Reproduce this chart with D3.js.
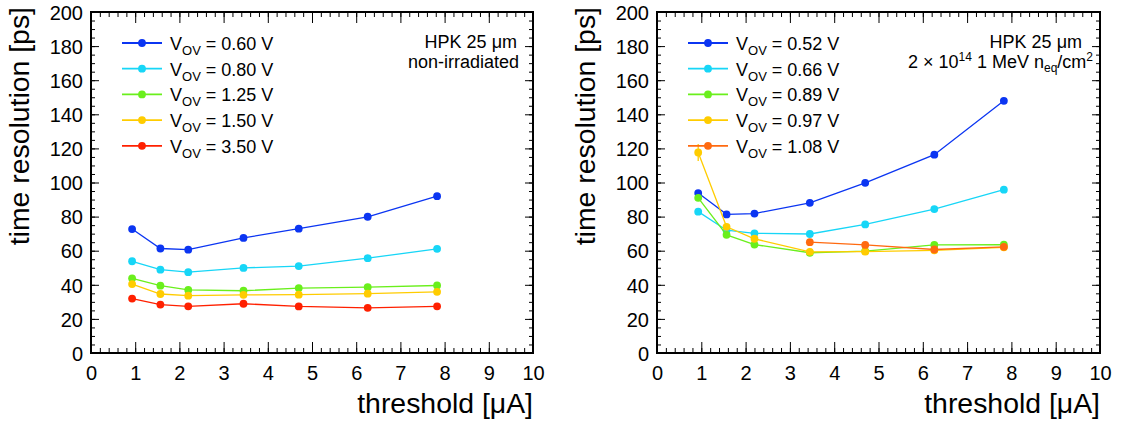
<!DOCTYPE html>
<html>
<head>
<meta charset="utf-8">
<script src="https://cdn.jsdelivr.net/npm/d3@7"></script>
<style>
  body { margin: 0; background: #fff; }
  text { font-family: "Liberation Sans", Arial, Helvetica, sans-serif; fill: #000; }
</style>
</head>
<body>
<div id="chart"></div>
<script>
// threshold values [uA], shared by both panels
const thresholds = [0.93, 1.57, 2.2, 3.45, 4.7, 6.26, 7.83];
const xTicks = [0, 1, 2, 3, 4, 5, 6, 7, 8, 9, 10];
const yTicks = [0, 20, 40, 60, 80, 100, 120, 140, 160, 180, 200];

// non-irradiated
const nonIrrVov = ["0.60", "0.80", "1.25", "1.50", "3.50"];
const nonIrr060 = [72.7, 61.3, 60.6, 67.5, 72.9, 79.9, 92.0];
const nonIrr080 = [53.8, 48.9, 47.4, 49.9, 51.0, 55.6, 61.1];
const nonIrr125 = [43.8, 39.5, 37.0, 36.5, 38.1, 38.6, 39.6];
const nonIrr150 = [40.4, 34.6, 33.6, 34.1, 34.2, 34.8, 35.9];
const nonIrr350 = [31.9, 28.4, 27.4, 28.9, 27.3, 26.5, 27.4];

// 2e14 irradiated
const irrVov = ["0.52", "0.66", "0.89", "0.97", "1.08"];
const irr052 = [93.8, 81.3, 81.8, 88.1, 99.8, 116.3, 147.9];
const irr066 = [82.9, 72.0, 70.2, 69.8, 75.4, 84.4, 95.8];
const irr089 = [91.0, 69.3, 63.6, 58.8, 59.8, 63.4, 63.5];
const irr097 = [117.6, 74.0, 67.0, 59.3, 59.4, 60.2, 62.0];
const irr108 = [null, null, null, 65.0, 63.4, 60.7, 62.3];
const irr097Err = [5, 0, 0, 0, 0, 0, 0];

const W = 1121, H = 425;
const svg = d3.select("#chart").append("svg")
  .attr("width", W)
  .attr("height", H);

const frameTop = 12, frameBottom = 353;

function drawPanel(left, right, series, errs, labels, colors, note1, note2) {
  const x = d3.scaleLinear().domain([0, 10]).range([left, right]);
  const y = d3.scaleLinear().domain([0, 200]).range([frameBottom, frameTop]);
  const g = svg.append("g");

  const xMinor = d3.range(0, 50.5, 1).map((d) => d / 5);
  const yMinor = d3.range(0, 201, 5);

  const noDomain = (s) => s.select(".domain").remove();

  // x axis, bottom (with labels)
  g.append("g")
    .attr("transform", `translate(0, ${frameBottom})`)
    .call(d3.axisBottom(x).tickValues(xMinor).tickSizeInner(-5).tickSizeOuter(0).tickFormat(""))
    .call(noDomain);
  g.append("g")
    .attr("class", "x-axis")
    .attr("transform", `translate(0, ${frameBottom})`)
    .call(d3.axisBottom(x).tickValues(xTicks).tickSizeInner(-11).tickSizeOuter(0).tickFormat(d3.format("d")))
    .call(noDomain)
    .selectAll("text")
    .attr("dy", null)
    .attr("y", 27)
    .attr("font-size", "20px")
    .attr("font-family", "Liberation Sans, Arial, sans-serif");

  // x axis, top (ticks only)
  g.append("g")
    .attr("transform", `translate(0, ${frameTop})`)
    .call(d3.axisTop(x).tickValues(xMinor).tickSizeInner(-5).tickSizeOuter(0).tickFormat(""))
    .call(noDomain);
  g.append("g")
    .attr("transform", `translate(0, ${frameTop})`)
    .call(d3.axisTop(x).tickValues(xTicks).tickSizeInner(-11).tickSizeOuter(0).tickFormat(""))
    .call(noDomain);

  // y axis, left (with labels)
  g.append("g")
    .attr("transform", `translate(${left}, 0)`)
    .call(d3.axisLeft(y).tickValues(yMinor).tickSizeInner(-4).tickSizeOuter(0).tickFormat(""))
    .call(noDomain);
  g.append("g")
    .attr("class", "y-axis")
    .attr("transform", `translate(${left}, 0)`)
    .call(d3.axisLeft(y).tickValues(yTicks).tickSizeInner(-8).tickSizeOuter(0).tickFormat(d3.format("d")))
    .call(noDomain)
    .selectAll("text")
    .attr("x", -8)
    .attr("dy", "0.36em")
    .attr("font-size", "20px")
    .attr("font-family", "Liberation Sans, Arial, sans-serif");

  // y axis, right (ticks only)
  g.append("g")
    .attr("transform", `translate(${right}, 0)`)
    .call(d3.axisRight(y).tickValues(yMinor).tickSizeInner(-4).tickSizeOuter(0).tickFormat(""))
    .call(noDomain);
  g.append("g")
    .attr("transform", `translate(${right}, 0)`)
    .call(d3.axisRight(y).tickValues(yTicks).tickSizeInner(-8).tickSizeOuter(0).tickFormat(""))
    .call(noDomain);

  g.selectAll(".tick line").attr("stroke", "#000").attr("stroke-width", 1);

  // frame
  g.append("rect")
    .attr("x", left)
    .attr("y", frameTop)
    .attr("width", right - left)
    .attr("height", frameBottom - frameTop)
    .attr("fill", "none")
    .attr("stroke", "#000")
    .attr("stroke-width", 2);

  // axis titles
  g.append("text")
    .attr("x", right)
    .attr("y", 413)
    .attr("text-anchor", "end")
    .attr("font-size", "28.4px")
    .text("threshold [\u03BCA]");
  g.append("text")
    .attr("transform", `translate(${left - 62}, 7) rotate(-90)`)
    .attr("text-anchor", "end")
    .attr("font-size", "28.4px")
    .text("time resolution [ps]");

  // series
  const line = d3.line()
    .defined((d) => d != null)
    .x((d, i) => x(thresholds[i]))
    .y((d) => y(d));

  series.forEach((vals, s) => {
    const col = colors[s];
    g.append("path")
      .datum(vals)
      .attr("d", line)
      .attr("fill", "none")
      .attr("stroke", col)
      .attr("stroke-width", 1.3);

    if (errs[s]) {
      g.selectAll(null)
        .data(vals.map((v, i) => ({ v, i, e: errs[s][i] })).filter((d) => d.v != null && d.e > 0))
        .enter()
        .append("line")
        .attr("x1", (d) => x(thresholds[d.i]))
        .attr("x2", (d) => x(thresholds[d.i]))
        .attr("y1", (d) => y(d.v + d.e))
        .attr("y2", (d) => y(d.v - d.e))
        .attr("stroke", col)
        .attr("stroke-width", 1.3);
    }

    g.selectAll(null)
      .data(vals.map((v, i) => ({ v, i })).filter((d) => d.v != null))
      .enter()
      .append("circle")
      .attr("cx", (d) => x(thresholds[d.i]))
      .attr("cy", (d) => y(d.v))
      .attr("r", 3.9)
      .attr("fill", col);
  });

  // legend
  labels.forEach((lab, s) => {
    const ly = 43 + s * 25.7;
    const col = colors[s];
    g.append("line")
      .attr("x1", left + 31)
      .attr("x2", left + 71)
      .attr("y1", ly)
      .attr("y2", ly)
      .attr("stroke", col)
      .attr("stroke-width", 1.8);
    g.append("circle")
      .attr("cx", left + 51)
      .attr("cy", ly)
      .attr("r", 3.9)
      .attr("fill", col);
    const t = g.append("text")
      .attr("x", left + 79)
      .attr("y", ly + 7)
      .attr("font-size", "18px");
    t.append("tspan").text("V");
    t.append("tspan").attr("font-size", "13px").attr("dy", 5).text("OV");
    t.append("tspan").attr("dy", -5).text(` = ${lab} V`);
  });

  // notes
  note1(g.append("text").attr("text-anchor", "end").attr("font-size", "18px"));
  note2(g.append("text").attr("text-anchor", "end").attr("font-size", "18px"));
}

const leftColors = ["#0b35f2", "#17d6f7", "#6aef1c", "#ffcc00", "#ff2000"];
const rightColors = ["#0b35f2", "#17d6f7", "#6aef1c", "#ffcc00", "#ff6a10"];

drawPanel(91, 533,
  [nonIrr060, nonIrr080, nonIrr125, nonIrr150, nonIrr350],
  [null, null, null, null, null],
  nonIrrVov, leftColors,
  (t) => t.attr("x", 517).attr("y", 48).text("HPK 25 \u03BCm"),
  (t) => t.attr("x", 519).attr("y", 68).text("non-irradiated"));

drawPanel(657, 1100,
  [irr052, irr066, irr089, irr097, irr108],
  [null, null, null, irr097Err, null],
  irrVov, rightColors,
  (t) => t.attr("x", 1082).attr("y", 48).text("HPK 25 \u03BCm"),
  (t) => {
    t.attr("x", 1093).attr("y", 68);
    t.append("tspan").text("2 \u00D7 10");
    t.append("tspan").attr("font-size", "12px").attr("dy", -7).text("14");
    t.append("tspan").attr("dy", 7).text(" 1 MeV n");
    t.append("tspan").attr("font-size", "12px").attr("dy", 4).text("eq");
    t.append("tspan").attr("dy", -4).text("/cm");
    t.append("tspan").attr("font-size", "12px").attr("dy", -7).text("2");
  });
</script>
</body>
</html>
